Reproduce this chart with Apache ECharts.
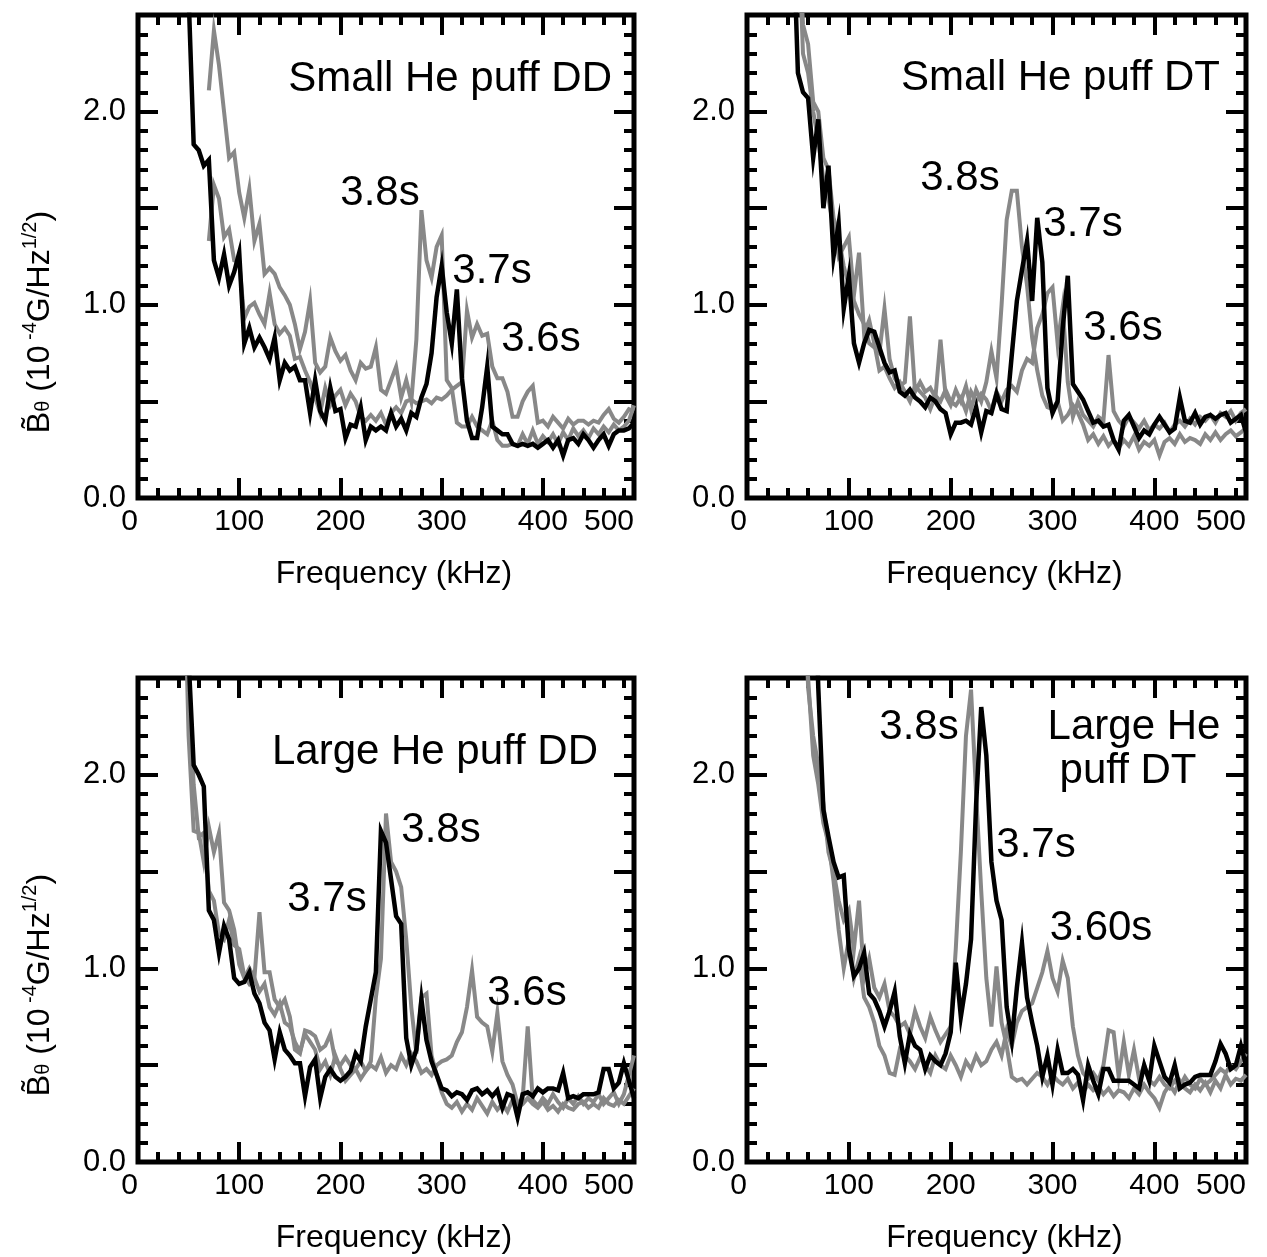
<!DOCTYPE html>
<html><head><meta charset="utf-8">
<script src="https://cdn.jsdelivr.net/npm/echarts@6/dist/echarts.min.js"></script>
<style>html,body{margin:0;padding:0;background:#fff}#c{width:1267px;height:1257px}</style>
</head><body><div id="c"></div>
<script>
// ---------------- DATA ----------------
const freq = [45,50,55,60,65,70,75,80,85,90,
 95,100,105,110,115,120,125,130,135,140,
 145,150,155,160,165,170,175,180,185,190,
 195,200,205,210,215,220,225,230,235,240,
 245,250,255,260,265,270,275,280,285,290,
 295,300,305,310,315,320,325,330,335,340,
 345,350,355,360,365,370,375,380,385,390,
 395,400,405,410,415,420,425,430,435,440,
 445,450,455,460,465,470,475,480,485,490];

const xTickLabels = ['0','100','200','300','400','500'];
const yTickLabels = ['0.0','1.0','2.0'];
const panelTitles = ['Small He puff DD','Small He puff DT','Large He puff DD','Large He\npuff DT'];

// Small He puff DD
const smallDD_37 = [3.2,2.6,1.83,1.80,1.72,1.75,1.23,1.14,1.26,1.10,
 1.17,1.27,0.80,0.88,0.78,0.83,0.78,0.72,0.83,0.61,
 0.70,0.66,0.68,0.61,0.61,0.44,0.61,0.45,0.40,0.57,
 0.45,0.46,0.31,0.38,0.37,0.47,0.30,0.37,0.35,0.37,
 0.35,0.44,0.37,0.41,0.35,0.44,0.42,0.52,0.59,0.75,
 1.04,1.20,0.96,0.80,1.08,0.62,0.40,0.31,0.31,0.47,
 0.68,0.37,0.35,0.33,0.33,0.28,0.27,0.28,0.27,0.28,
 0.26,0.28,0.30,0.26,0.30,0.22,0.30,0.31,0.28,0.33,
 0.30,0.26,0.30,0.33,0.27,0.33,0.35,0.35,0.36,0.39];
const smallDD_38 = [null,null,null,null,null,2.11,2.42,2.24,2.00,1.76,
 1.79,1.58,1.45,1.60,1.33,1.42,1.16,1.19,1.16,1.09,
 1.05,1.00,0.90,0.77,0.86,1.02,0.70,0.65,0.68,0.83,
 0.76,0.71,0.74,0.66,0.61,0.70,0.67,0.68,0.78,0.56,
 0.54,0.61,0.68,0.52,0.61,0.50,0.82,1.49,1.23,1.14,
 1.30,1.36,0.61,0.57,0.39,0.37,0.37,0.42,0.37,0.35,
 0.33,0.40,0.30,0.27,0.27,0.28,0.27,0.33,0.28,0.35,
 0.28,0.32,0.29,0.33,0.28,0.34,0.30,0.36,0.32,0.35,
 0.31,0.36,0.33,0.37,0.34,0.38,0.35,0.37,0.40,0.48];
const smallDD_36 = [null,null,null,null,null,1.33,1.62,1.55,1.35,1.39,
 1.23,1.22,0.93,0.99,1.01,0.95,0.90,1.06,0.90,0.85,
 0.88,0.84,0.72,0.73,0.66,0.60,0.52,0.44,0.57,0.48,
 0.53,0.56,0.48,0.54,0.50,0.42,0.40,0.43,0.40,0.44,
 0.38,0.44,0.47,0.44,0.50,0.51,0.49,0.50,0.51,0.49,
 0.52,0.51,0.53,0.56,0.58,0.60,0.97,0.83,0.90,0.84,
 0.85,0.68,0.62,0.62,0.55,0.42,0.42,0.50,0.55,0.58,
 0.39,0.40,0.37,0.42,0.39,0.36,0.41,0.38,0.40,0.40,
 0.38,0.40,0.39,0.43,0.46,0.41,0.39,0.42,0.46,0.45];

// Small He puff DT
const smallDT_37 = [3.0,2.2,2.10,2.07,1.76,1.96,1.50,1.72,1.25,1.42,
 0.98,1.15,0.80,0.70,0.80,0.87,0.86,0.78,0.70,0.65,
 0.66,0.55,0.53,0.56,0.52,0.50,0.47,0.52,0.50,0.46,
 0.44,0.33,0.39,0.39,0.40,0.38,0.47,0.34,0.45,0.44,
 0.54,0.46,0.45,0.74,1.02,1.18,1.33,1.02,1.45,1.22,
 0.57,0.44,0.50,0.88,1.15,0.59,0.55,0.51,0.45,0.39,
 0.40,0.37,0.38,0.30,0.25,0.40,0.43,0.37,0.31,0.35,
 0.33,0.38,0.42,0.38,0.34,0.36,0.52,0.40,0.39,0.44,
 0.38,0.42,0.43,0.41,0.43,0.44,0.39,0.41,0.43,0.34];
const smallDT_38 = [null,3.0,2.45,2.35,2.05,2.00,1.76,1.70,1.45,1.35,
 1.20,1.10,1.02,0.95,0.90,0.80,0.78,0.75,0.98,0.72,
 0.62,0.58,0.60,0.94,0.55,0.60,0.55,0.57,0.52,0.82,
 0.53,0.48,0.56,0.50,0.58,0.46,0.56,0.50,0.60,0.76,
 0.62,1.00,1.44,1.59,1.59,1.30,1.10,0.83,0.66,0.53,
 0.47,0.46,0.50,0.40,0.43,0.48,0.44,0.38,0.30,0.33,
 0.28,0.32,0.27,0.30,0.26,0.30,0.27,0.32,0.25,0.29,
 0.27,0.30,0.22,0.29,0.31,0.28,0.33,0.29,0.31,0.30,
 0.28,0.33,0.30,0.34,0.30,0.33,0.35,0.32,0.34,0.36];
const smallDT_36 = [null,3.0,2.3,2.2,2.0,1.85,1.65,1.55,1.40,1.25,
 1.30,1.35,1.05,1.27,0.85,0.92,0.80,0.66,0.68,0.62,
 0.57,0.60,0.55,0.50,0.58,0.55,0.52,0.46,0.53,0.50,
 0.56,0.50,0.48,0.52,0.45,0.55,0.50,0.54,0.51,0.45,
 0.55,0.50,0.56,0.58,0.55,0.66,0.72,0.70,0.88,0.95,
 1.06,1.09,0.80,0.99,0.60,0.42,0.50,0.43,0.40,0.37,
 0.42,0.40,0.74,0.45,0.40,0.37,0.42,0.39,0.36,0.40,
 0.35,0.38,0.36,0.39,0.34,0.38,0.40,0.37,0.41,0.38,
 0.42,0.40,0.43,0.39,0.44,0.42,0.45,0.40,0.44,0.46];

// Large He puff DD
const largeDD_37 = [3.2,2.6,2.05,2.00,1.94,1.30,1.25,1.08,1.22,1.15,
 0.95,0.92,0.93,0.98,0.87,0.82,0.72,0.68,0.53,0.67,
 0.58,0.55,0.51,0.51,0.34,0.49,0.53,0.33,0.44,0.48,
 0.44,0.42,0.44,0.47,0.56,0.52,0.70,0.84,0.98,1.71,
 1.65,1.46,1.27,1.23,0.64,0.50,0.58,0.84,0.63,0.52,
 0.45,0.38,0.37,0.34,0.36,0.35,0.32,0.37,0.38,0.35,
 0.37,0.34,0.37,0.28,0.35,0.34,0.23,0.35,0.36,0.34,
 0.38,0.36,0.38,0.38,0.37,0.46,0.33,0.34,0.33,0.35,
 0.35,0.35,0.36,0.48,0.48,0.38,0.41,0.51,0.42,0.33];
const largeDD_38 = [3.2,2.2,1.71,1.70,1.55,1.73,1.60,1.70,1.34,1.30,
 1.20,1.02,0.95,1.00,0.95,0.88,0.92,0.80,0.76,0.82,
 0.72,0.70,0.62,0.57,0.66,0.62,0.58,0.48,0.52,0.45,
 0.55,0.48,0.42,0.45,0.48,0.43,0.47,0.52,0.85,1.05,
 1.80,1.55,1.50,1.42,1.15,0.80,0.56,0.85,0.87,0.55,
 0.45,0.36,0.30,0.28,0.31,0.26,0.30,0.27,0.33,0.29,
 0.25,0.31,0.27,0.30,0.26,0.32,0.28,0.30,0.33,0.30,
 0.28,0.31,0.27,0.29,0.26,0.30,0.28,0.27,0.30,0.31,
 0.28,0.30,0.28,0.33,0.30,0.29,0.32,0.30,0.34,0.38];
const largeDD_36 = [3.2,2.5,1.95,1.68,1.70,1.40,1.35,1.18,1.15,1.25,
 1.12,1.10,0.96,0.92,0.95,1.29,0.98,0.98,0.84,0.80,
 0.84,0.75,0.58,0.56,0.68,0.67,0.65,0.58,0.60,0.66,
 0.52,0.50,0.54,0.50,0.48,0.52,0.47,0.50,0.48,0.54,
 0.46,0.50,0.48,0.55,0.50,0.56,0.52,0.46,0.48,0.45,
 0.50,0.52,0.53,0.55,0.62,0.67,0.80,0.99,0.75,0.72,
 0.70,0.57,0.77,0.52,0.45,0.40,0.30,0.33,0.70,0.32,
 0.29,0.33,0.30,0.35,0.31,0.28,0.33,0.30,0.34,0.30,
 0.33,0.31,0.35,0.30,0.33,0.36,0.30,0.35,0.45,0.55];

// Large He puff DT
const largeDT_37 = [null,null,null,null,3.3,2.45,1.82,1.68,1.55,1.47,
 1.48,1.10,0.96,1.00,1.08,0.87,0.84,0.78,0.70,0.78,
 0.88,0.65,0.51,0.66,0.60,0.58,0.48,0.55,0.52,0.50,
 0.56,0.67,1.03,0.75,0.92,1.15,1.85,2.35,2.10,1.55,
 1.35,1.25,0.80,0.63,0.90,1.13,0.85,0.72,0.60,0.44,
 0.55,0.40,0.58,0.46,0.46,0.48,0.45,0.32,0.50,0.42,
 0.35,0.48,0.48,0.42,0.42,0.42,0.42,0.40,0.38,0.50,
 0.42,0.60,0.52,0.44,0.41,0.50,0.38,0.40,0.41,0.44,
 0.45,0.45,0.45,0.52,0.61,0.56,0.48,0.50,0.60,0.50];
const largeDT_38 = [null,null,3.2,2.45,2.20,2.05,1.85,1.60,1.50,1.35,
 1.25,1.30,1.10,1.35,0.95,1.05,0.90,0.85,0.92,0.78,
 0.75,0.70,0.72,0.66,0.78,0.70,0.64,0.75,0.68,0.62,
 0.66,0.70,1.10,1.60,2.20,2.44,1.90,1.40,0.95,0.70,
 1.01,0.72,0.60,0.44,0.42,0.43,0.40,0.43,0.46,0.44,
 0.40,0.45,0.42,0.40,0.43,0.38,0.41,0.36,0.40,0.37,
 0.39,0.35,0.38,0.34,0.37,0.36,0.33,0.38,0.35,0.40,
 0.36,0.33,0.28,0.36,0.40,0.36,0.42,0.38,0.36,0.40,
 0.37,0.41,0.36,0.42,0.38,0.45,0.40,0.43,0.42,0.45];
const largeDT_36 = [null,null,3.0,2.5,2.1,1.95,1.75,1.65,1.45,1.20,
 1.00,1.15,0.95,1.05,0.85,0.80,0.72,0.60,0.55,0.46,
 0.45,0.58,0.55,0.52,0.48,0.54,0.50,0.46,0.55,0.50,
 0.48,0.55,0.50,0.44,0.52,0.48,0.55,0.50,0.52,0.58,
 0.62,0.55,0.68,0.60,0.72,0.78,0.80,0.82,0.90,0.98,
 1.09,0.95,0.88,1.04,0.95,0.70,0.55,0.46,0.43,0.46,
 0.42,0.50,0.68,0.67,0.44,0.62,0.45,0.58,0.43,0.50,
 0.42,0.40,0.44,0.40,0.38,0.42,0.39,0.44,0.40,0.38,
 0.43,0.40,0.42,0.45,0.48,0.46,0.50,0.48,0.52,0.56];

// ---------------- CHART ----------------
const FONT = "'Liberation Sans', Arial, Helvetica, sans-serif";
const GRAY = '#888888';
const panels = [
  {grid:{left:138, top:15, width:496, height:483}, s:[smallDD_38, smallDD_36, smallDD_37]},
  {grid:{left:747, top:15, width:499, height:483}, s:[smallDT_38, smallDT_36, smallDT_37]},
  {grid:{left:138, top:678, width:496, height:484}, s:[largeDD_38, largeDD_36, largeDD_37]},
  {grid:{left:747, top:678, width:499, height:484}, s:[largeDT_38, largeDT_36, largeDT_37]}
];

const grid = [], xAxis = [], yAxis = [], series = [];
panels.forEach((p, i) => {
  grid.push(Object.assign({show:true, borderColor:'#000', borderWidth:5, backgroundColor:'#fff', containLabel:false, outerBoundsMode:'none'}, p.grid));
  ['bottom','top'].forEach(pos => {
    xAxis.push({
      type:'value', gridIndex:i, position:pos, min:0, max:490, interval:100,
      axisLine:{show:false, onZero:false}, splitLine:{show:false},
      axisTick:{show:true, inside:true, length:20, lineStyle:{color:'#000', width:4}},
      minorTick:{show:true, splitNumber:5, length:10, lineStyle:{color:'#000', width:4}},
      axisLabel: pos === 'bottom' ? {
        show:true, margin:9, fontSize:30, color:'#000', fontFamily:FONT,
        showMinLabel:true, showMaxLabel:true, alignMinLabel:'right', alignMaxLabel:'right',
        formatter: v => v >= 490 ? xTickLabels[5] : xTickLabels[Math.round(v/100)]
      } : {show:false},
      name: pos === 'bottom' ? 'Frequency (kHz)' : '',
      nameLocation:'middle', nameGap:60,
      nameTextStyle:{fontSize:32, color:'#000', fontFamily:FONT, padding:[0,0,0,16]}
    });
  });
  ['left','right'].forEach(pos => {
    yAxis.push({
      type:'value', gridIndex:i, position:pos, min:0, max:2.5, interval:0.5,
      axisLine:{show:false, onZero:false}, splitLine:{show:false},
      axisTick:{show:true, inside:true, length:20, lineStyle:{color:'#000', width:4}},
      minorTick:{show:true, splitNumber:5, length:10, lineStyle:{color:'#000', width:4}},
      axisLabel: pos === 'left' ? {
        show:true, margin:12, fontSize:31, color:'#000', fontFamily:FONT,
        formatter: v => { const k = Math.round(v*2); return (k % 2 === 0 && k/2 < yTickLabels.length) ? yTickLabels[k/2] : ''; }
      } : {show:false}
    });
  });
  p.s.forEach((arr, j) => {
    const black = j === 2;
    series.push({
      type:'line', xAxisIndex:2*i, yAxisIndex:2*i,
      data: freq.map((f,k) => [f, arr[k]]).filter(d => d[1] !== null),
      symbol:'none', showSymbol:false, clip:true, silent:true,
      lineStyle:{color: black ? '#000' : GRAY, width: black ? 4.5 : 4, join:'miter'},
      z: black ? 4 : 3
    });
  });
});

const TS = 42;
const txt = (text, x, y, align, size) => ({
  type:'text', x, y, z:100,
  style:{text, fill:'#000', font: size + 'px ' + FONT, align: align || 'center', verticalAlign:'middle'}
});
const graphics = [
  txt(panelTitles[0], 612, 79, 'right', TS),
  txt('3.8s', 380, 193, 'center', TS), txt('3.7s', 492, 271, 'center', TS), txt('3.6s', 541, 339, 'center', TS),
  txt(panelTitles[1], 1220, 78, 'right', TS),
  txt('3.8s', 960, 178, 'center', TS), txt('3.7s', 1083, 224, 'center', TS), txt('3.6s', 1123, 328, 'center', TS),
  txt(panelTitles[2], 598, 752, 'right', TS),
  txt('3.8s', 441, 830, 'center', TS), txt('3.7s', 327, 899, 'center', TS), txt('3.6s', 527, 993, 'center', TS),
  txt('Large He', 1134, 727, 'center', TS), txt('puff DT', 1128, 771, 'center', TS),
  txt('3.8s', 919, 727, 'center', TS), txt('3.7s', 1036, 845, 'center', TS), txt('3.60s', 1101, 928, 'center', TS)
];
const yName = (y) => ({
  type:'text', x:40, y, rotation:Math.PI/2, z:100,
  style:{
    text:'{b|B\u0303}{th|\u03b8}{n| (10}{s| -4}{n|G/Hz}{s|1/2}{n|)}',
    align:'center', verticalAlign:'middle', fill:'#000',
    rich:{
      b:{fontSize:32, fontFamily:FONT, lineHeight:40, verticalAlign:'middle'},
      th:{fontSize:20, fontFamily:FONT, lineHeight:40, verticalAlign:'bottom', padding:[0,0,7,0]},
      n:{fontSize:32, fontFamily:FONT, lineHeight:40, verticalAlign:'middle'},
      s:{fontSize:20, fontFamily:FONT, lineHeight:40, verticalAlign:'top'}
    }
  }
});
graphics.push(yName(322), yName(985));

const chart = echarts.init(document.getElementById('c'), null, {renderer:'canvas'});
chart.setOption({
  backgroundColor:'#fff', animation:false,
  textStyle:{fontFamily:FONT, color:'#000'},
  grid, xAxis, yAxis, series, graphic: graphics
});
</script>
</body></html>
